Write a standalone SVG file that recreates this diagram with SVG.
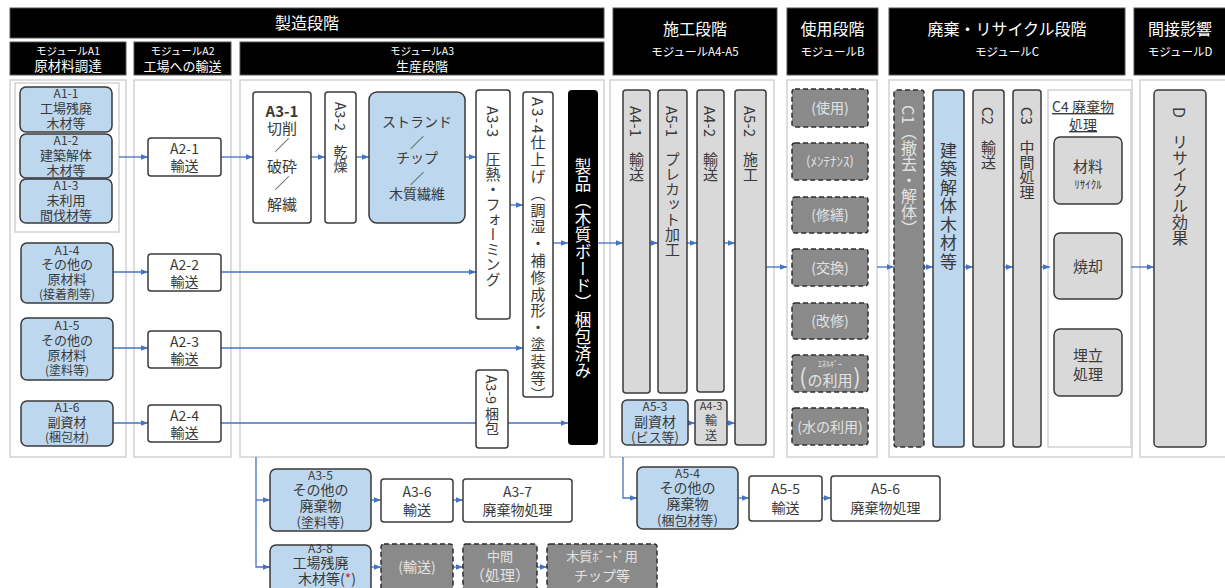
<svg xmlns="http://www.w3.org/2000/svg" width="1225" height="588" viewBox="0 0 1225 588">
<style>
text{font-family:"Noto Sans CJK JP","Noto Sans",sans-serif;fill:#3a3a3a;}
.h{fill:#000;stroke:#555;stroke-width:1}
.ht{fill:#fff;text-anchor:middle}
.col{fill:#fff;stroke:#d2d2d2;stroke-width:1.5}
.blue{fill:#bdd7ee;stroke:#3a3a3a;stroke-width:1.5}
.wht{fill:#fff;stroke:#3a3a3a;stroke-width:1.5}
.gry{fill:#d9d9d9;stroke:#3a3a3a;stroke-width:1.5}
.dash{fill:#8a8a8a;stroke:#2e2e2e;stroke-width:1.5;stroke-dasharray:5 3}
.c{text-anchor:middle}
.lt{fill:#e2e2e2}
.v{writing-mode:vertical-rl;text-orientation:mixed}
.cn path{fill:none;stroke:#4472c4;stroke-width:1.3;marker-end:url(#ah)}
</style>
<defs>
<marker id="ah" viewBox="0 0 10 10" refX="10" refY="5" markerWidth="7" markerHeight="7" orient="auto" markerUnits="userSpaceOnUse"><path d="M0,1 L10,5 L0,9 z" fill="#4472c4"/></marker>
</defs>
<rect width="1225" height="588" fill="#fff"/>

<!-- headers -->
<g id="hdr-manufacture"><rect class="h" x="10" y="8" width="594" height="30"/><text class="ht" x="307" y="29" font-size="16">製造段階</text></g>
<g id="hdr-a1"><rect class="h" x="10" y="42" width="116" height="33"/><text class="ht" font-size="13.5"><tspan x="68" y="55" font-size="10.5">モジュールA1</tspan><tspan x="68" y="71">原材料調達</tspan></text></g>
<g id="hdr-a2"><rect class="h" x="134" y="42" width="97" height="33"/><text class="ht" font-size="13"><tspan x="182.5" y="55" font-size="10.5">モジュールA2</tspan><tspan x="182.5" y="71">工場への輸送</tspan></text></g>
<g id="hdr-a3"><rect class="h" x="240" y="42" width="364" height="33"/><text class="ht" font-size="13"><tspan x="422" y="55" font-size="10.5">モジュールA3</tspan><tspan x="422" y="71">生産段階</tspan></text></g>
<g id="hdr-const"><rect class="h" x="613" y="8" width="164" height="67"/><text class="ht" font-size="16"><tspan x="695" y="35">施工段階</tspan><tspan x="695" y="56" font-size="11.5">モジュールA4-A5</tspan></text></g>
<g id="hdr-use"><rect class="h" x="787" y="8" width="91" height="67"/><text class="ht" font-size="16"><tspan x="832.5" y="35">使用段階</tspan><tspan x="832.5" y="56" font-size="11.5">モジュールB</tspan></text></g>
<g id="hdr-disposal"><rect class="h" x="889" y="8" width="236" height="67"/><text class="ht" font-size="16"><tspan x="1007" y="35">廃棄・リサイクル段階</tspan><tspan x="1007" y="56" font-size="11.5">モジュールC</tspan></text></g>
<g id="hdr-indirect"><rect class="h" x="1134" y="8" width="95" height="67"/><text class="ht" font-size="16"><tspan x="1180" y="35">間接影響</tspan><tspan x="1180" y="56" font-size="11.5">モジュールD</tspan></text></g>

<!-- column panels -->
<g id="panels">
<rect class="col" x="10" y="80" width="116" height="377"/>
<rect class="col" x="15" y="83" width="104" height="149"/>
<rect class="col" x="134" y="80" width="97" height="377"/>
<rect class="col" x="240" y="80" width="364" height="377"/>
<rect class="col" x="610" y="80" width="164" height="377"/>
<rect class="col" x="787" y="80" width="90" height="377"/>
<rect class="col" x="889" y="80" width="243" height="377"/>
<rect class="col" x="1048" y="90" width="83" height="357"/>
<rect class="col" x="1140" y="80" width="90" height="377"/>
</g>

<!-- connectors -->
<g id="connectors" class="cn">
<path d="M119,157 H148"/>
<path d="M221,157 H253"/>
<path d="M311,157 H325"/>
<path d="M356,157 H369"/>
<path d="M465,157 H476"/>
<path d="M113,272 H148"/>
<path d="M221,272 H476"/>
<path d="M113,348 H148"/>
<path d="M221,348 H523"/>
<path d="M510,205 H523"/>
<path d="M553,243 H568"/>
<path d="M113,423 H148"/>
<path d="M221,423 H568"/>
<path d="M598,243 H623"/>
<path d="M650,243 H658"/>
<path d="M687,243 H697"/>
<path d="M724,243 H735"/>
<path d="M688,423 H695"/>
<path d="M727,423 H735"/>
<path d="M766,267 H787"/>
<path d="M877,267 H894"/>
<path d="M924,267 H933"/>
<path d="M964,267 H973"/>
<path d="M1004,267 H1013"/>
<path d="M1041,267 H1050"/>
<path d="M1131,267 H1154"/>
<path d="M256,457 V567 H270"/>
<path d="M256,500 H270"/>
<path d="M371,500 H381"/>
<path d="M453,500 H463"/>
<path d="M371,567 H381"/>
<path d="M453,567 H463"/>
<path d="M537,567 H547"/>
<path d="M623,457 V498 H637"/>
<path d="M738,498 H749"/>
<path d="M822,498 H831"/>
</g>

<!-- A1 -->
<g id="A1-1"><rect class="blue" x="20" y="87" width="92" height="45" rx="6"/><text class="c" font-size="13"><tspan x="66" y="98" font-size="12">A1-1</tspan><tspan x="66" y="113">工場残廃</tspan><tspan x="66" y="128">木材等</tspan></text></g>
<g id="A1-2"><rect class="blue" x="20" y="134" width="92" height="44" rx="6"/><text class="c" font-size="13"><tspan x="66" y="145" font-size="12">A1-2</tspan><tspan x="66" y="160">建築解体</tspan><tspan x="66" y="175">木材等</tspan></text></g>
<g id="A1-3"><rect class="blue" x="20" y="179" width="92" height="44" rx="6"/><text class="c" font-size="13"><tspan x="66" y="190" font-size="12">A1-3</tspan><tspan x="66" y="205">未利用</tspan><tspan x="66" y="220">間伐材等</tspan></text></g>
<g id="A1-4"><rect class="blue" x="21" y="243" width="92" height="60" rx="6"/><text class="c" font-size="13"><tspan x="67" y="255" font-size="12">A1-4</tspan><tspan x="67" y="269">その他の</tspan><tspan x="67" y="284">原材料</tspan><tspan x="67" y="299" font-size="12">(接着剤等)</tspan></text></g>
<g id="A1-5"><rect class="blue" x="21" y="318" width="92" height="62" rx="6"/><text class="c" font-size="13"><tspan x="67" y="330" font-size="12">A1-5</tspan><tspan x="67" y="345">その他の</tspan><tspan x="67" y="360">原材料</tspan><tspan x="67" y="375" font-size="12">(塗料等)</tspan></text></g>
<g id="A1-6"><rect class="blue" x="21" y="401" width="92" height="45" rx="6"/><text class="c" font-size="13"><tspan x="67" y="412" font-size="12">A1-6</tspan><tspan x="67" y="427">副資材</tspan><tspan x="67" y="442" font-size="12">(梱包材)</tspan></text></g>

<!-- A2 -->
<g id="A2-1"><rect class="wht" x="148" y="138" width="73" height="38" rx="3"/><text class="c" font-size="14"><tspan x="184.5" y="154">A2-1</tspan><tspan x="184.5" y="171">輸送</tspan></text></g>
<g id="A2-2"><rect class="wht" x="148" y="254" width="73" height="37" rx="3"/><text class="c" font-size="14"><tspan x="184.5" y="270">A2-2</tspan><tspan x="184.5" y="287">輸送</tspan></text></g>
<g id="A2-3"><rect class="wht" x="148" y="331" width="73" height="37" rx="3"/><text class="c" font-size="14"><tspan x="184.5" y="347">A2-3</tspan><tspan x="184.5" y="364">輸送</tspan></text></g>
<g id="A2-4"><rect class="wht" x="148" y="405" width="73" height="37" rx="3"/><text class="c" font-size="14"><tspan x="184.5" y="421">A2-4</tspan><tspan x="184.5" y="438">輸送</tspan></text></g>

<!-- A3 -->
<g id="A3-1"><rect class="wht" x="253" y="92" width="58" height="131" rx="3"/><text class="c" font-size="15"><tspan x="282" y="117" font-weight="bold">A3-1</tspan><tspan x="282" y="134">切削</tspan><tspan x="282" y="151">／</tspan><tspan x="282" y="172">破砕</tspan><tspan x="282" y="189">／</tspan><tspan x="282" y="210">解繊</tspan></text></g>
<g id="A3-2"><rect class="wht" x="325" y="92" width="31" height="131" rx="3"/><text class="v" x="340.5" y="102" font-size="14">A3-2　乾燥</text></g>
<g id="strand"><rect class="blue" x="369" y="92" width="96" height="131" rx="8"/><text class="c" font-size="14"><tspan x="417" y="127">ストランド</tspan><tspan x="417" y="147">／</tspan><tspan x="417" y="163">チップ</tspan><tspan x="417" y="183">／</tspan><tspan x="417" y="199">木質繊維</tspan></text></g>
<g id="A3-3"><rect class="wht" x="476" y="90" width="34" height="229" rx="3"/><text class="v" x="493" y="106" font-size="15">A3-3　圧熱・フォーミング</text></g>
<g id="A3-4"><rect class="wht" x="523" y="92" width="30" height="305" rx="3"/><text class="v" x="538" y="97" font-size="15" letter-spacing="1.8">A3-4仕上げ（調湿・補修成形・塗装等）</text></g>
<g id="A3-9"><rect class="wht" x="476" y="370" width="32" height="78" rx="3"/><text class="v" x="492" y="375" font-size="14">A3-9 梱包</text></g>
<g id="product"><rect x="568" y="90" width="30" height="355" rx="4" fill="#000"/><text class="v" x="583" y="158" font-size="16.5" letter-spacing="0.5" style="fill:#fff">製品（木質ボード）梱包済み</text></g>

<!-- A4-A5 -->
<g id="A4-1"><rect class="gry" x="623" y="90" width="27" height="303" rx="3"/><text class="v" x="636.5" y="106" font-size="15">A4-1　輸送</text></g>
<g id="A5-1"><rect class="gry" x="658" y="90" width="29" height="303" rx="3"/><text class="v" x="672.5" y="106" font-size="15">A5-1　プレカット加工</text></g>
<g id="A4-2"><rect class="gry" x="697" y="90" width="27" height="302" rx="3"/><text class="v" x="710.5" y="106" font-size="15">A4-2　輸送</text></g>
<g id="A5-2"><rect class="gry" x="735" y="90" width="31" height="355" rx="3"/><text class="v" x="750.5" y="106" font-size="15">A5-2　施工</text></g>
<g id="A5-3"><rect class="blue" x="622" y="400" width="66" height="45" rx="5"/><text class="c" font-size="14"><tspan x="655" y="411" font-size="12">A5-3</tspan><tspan x="655" y="427">副資材</tspan><tspan x="655" y="442" font-size="13">(ビス等)</tspan></text></g>
<g id="A4-3"><rect class="gry" x="695" y="400" width="32" height="45" rx="3"/><text class="c" font-size="12"><tspan x="711" y="410" font-size="11">A4-3</tspan><tspan x="711" y="425">輸</tspan><tspan x="711" y="440">送</tspan></text></g>

<!-- B -->
<g id="B-use"><rect class="dash" x="792" y="89" width="76" height="38" rx="3"/><text class="c lt" x="830" y="113" font-size="14">(使用)</text></g>
<g id="B-maint"><rect class="dash" x="792" y="143" width="76" height="37" rx="3"/><text class="c lt" x="830" y="166" font-size="13">(ﾒﾝﾃﾅﾝｽ)</text></g>
<g id="B-repair"><rect class="dash" x="792" y="197" width="76" height="36" rx="3"/><text class="c lt" x="830" y="220" font-size="14">(修繕)</text></g>
<g id="B-replace"><rect class="dash" x="792" y="249" width="76" height="37" rx="3"/><text class="c lt" x="830" y="273" font-size="14">(交換)</text></g>
<g id="B-refurb"><rect class="dash" x="792" y="303" width="76" height="36" rx="3"/><text class="c lt" x="830" y="326" font-size="14">(改修)</text></g>
<g id="B-energy"><rect class="dash" x="792" y="355" width="76" height="37" rx="3"/><text class="c lt" font-size="15"><tspan x="803" y="385" font-size="22">(</tspan><tspan x="830" y="367" font-size="8">ｴﾈﾙｷﾞｰ</tspan><tspan x="830" y="386">の利用</tspan><tspan x="857" y="385" font-size="22">)</tspan></text></g>
<g id="B-water"><rect class="dash" x="792" y="408" width="76" height="37" rx="3"/><text class="c lt" x="830" y="432" font-size="14">(水の利用)</text></g>

<!-- C -->
<g id="C1"><rect class="dash" x="894" y="90" width="30" height="357" rx="3"/><text class="v lt" x="909" y="105" font-size="16">C1（撤去・解体）</text></g>
<g id="C-wood"><rect class="blue" x="933" y="90" width="31" height="357" rx="3"/><text class="v" x="948.5" y="142" font-size="17" letter-spacing="1.5">建築解体木材等</text></g>
<g id="C2"><rect class="gry" x="973" y="90" width="31" height="357" rx="3"/><text class="v" x="988.5" y="107" font-size="15">C2　輸送</text></g>
<g id="C3"><rect class="gry" x="1013" y="90" width="28" height="357" rx="3"/><text class="v" x="1027" y="107" font-size="15">C3　中間処理</text></g>
<g id="C4-title"><text class="c" font-size="14" text-decoration="underline"><tspan x="1083" y="112">C4 廃棄物</tspan><tspan x="1083" y="130">処理</tspan></text></g>
<g id="C4-recycle"><rect class="gry" x="1054" y="137" width="68" height="67" rx="6"/><text class="c" font-size="15"><tspan x="1088" y="172">材料</tspan><tspan x="1088" y="189" font-size="11">ﾘｻｲｸﾙ</tspan></text></g>
<g id="C4-incin"><rect class="gry" x="1054" y="233" width="68" height="66" rx="6"/><text class="c" x="1088" y="272" font-size="15">焼却</text></g>
<g id="C4-landfill"><rect class="gry" x="1054" y="329" width="68" height="67" rx="6"/><text class="c" font-size="15"><tspan x="1088" y="361">埋立</tspan><tspan x="1088" y="380">処理</tspan></text></g>

<!-- D -->
<g id="D"><rect class="gry" x="1154" y="90" width="52" height="357" rx="4"/><text class="v" x="1180" y="107" font-size="16">D　リサイクル効果</text></g>

<!-- bottom A3 -->
<g id="A3-5"><rect class="blue" x="270" y="469" width="101" height="62" rx="6"/><text class="c" font-size="14"><tspan x="320.5" y="480" font-size="12">A3-5</tspan><tspan x="320.5" y="495">その他の</tspan><tspan x="320.5" y="511">廃棄物</tspan><tspan x="320.5" y="527" font-size="13">(塗料等)</tspan></text></g>
<g id="A3-6"><rect class="wht" x="381" y="479" width="72" height="43" rx="3"/><text class="c" font-size="14"><tspan x="417" y="497">A3-6</tspan><tspan x="417" y="515">輸送</tspan></text></g>
<g id="A3-7"><rect class="wht" x="463" y="479" width="109" height="43" rx="3"/><text class="c" font-size="14"><tspan x="517.5" y="497">A3-7</tspan><tspan x="517.5" y="515">廃棄物処理</tspan></text></g>
<g id="A3-8"><rect class="blue" x="270" y="545" width="101" height="48" rx="6"/><text class="c" font-size="14"><tspan x="320.5" y="553" font-size="12">A3-8</tspan><tspan x="320.5" y="568">工場残廃</tspan><tspan x="327" y="584">木材等(<tspan fill="#e02020">*</tspan>)</tspan></text></g>
<g id="B-trans"><rect class="dash" x="381" y="544" width="72" height="50" rx="3"/><text class="c lt" x="417" y="572" font-size="14">(輸送)</text></g>
<g id="B-mid"><rect class="dash" x="463" y="544" width="74" height="50" rx="3"/><text class="c lt" font-size="15"><tspan x="500" y="561" font-size="13">中間</tspan><tspan x="500" y="581">（処理）</tspan></text></g>
<g id="B-chip"><rect class="dash" x="547" y="544" width="110" height="50" rx="3"/><text class="c lt" font-size="14"><tspan x="602" y="561" font-size="13">木質ﾎﾞｰﾄﾞ用</tspan><tspan x="602" y="581">チップ等</tspan></text></g>

<!-- bottom A5 -->
<g id="A5-4"><rect class="blue" x="637" y="467" width="101" height="62" rx="6"/><text class="c" font-size="14"><tspan x="687.5" y="478" font-size="12">A5-4</tspan><tspan x="687.5" y="493">その他の</tspan><tspan x="687.5" y="509">廃棄物</tspan><tspan x="687.5" y="525" font-size="13">(梱包材等)</tspan></text></g>
<g id="A5-5"><rect class="wht" x="749" y="476" width="73" height="45" rx="3"/><text class="c" font-size="14"><tspan x="785.5" y="494">A5-5</tspan><tspan x="785.5" y="513">輸送</tspan></text></g>
<g id="A5-6"><rect class="wht" x="831" y="476" width="109" height="45" rx="3"/><text class="c" font-size="14"><tspan x="885.5" y="494">A5-6</tspan><tspan x="885.5" y="513">廃棄物処理</tspan></text></g>
</svg>
